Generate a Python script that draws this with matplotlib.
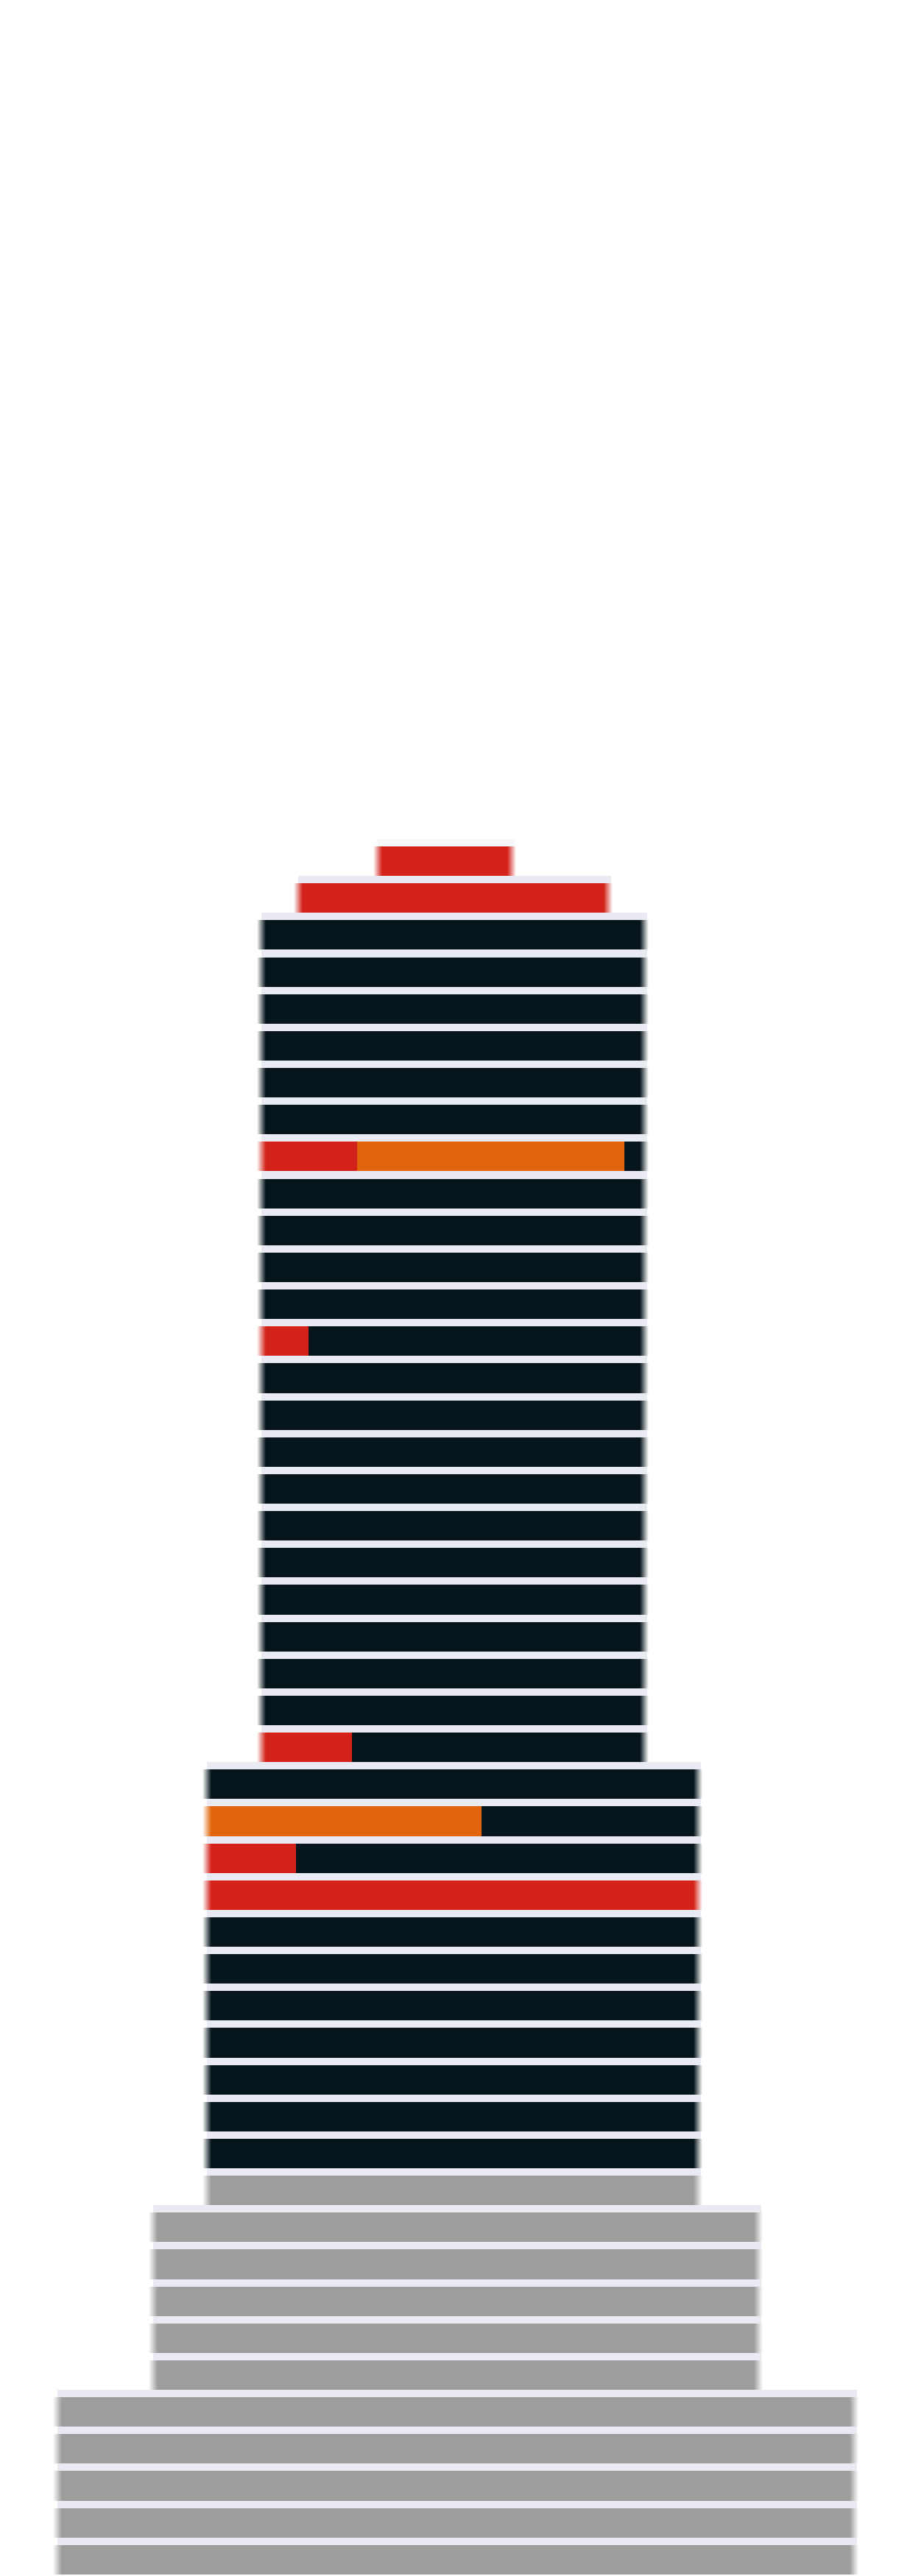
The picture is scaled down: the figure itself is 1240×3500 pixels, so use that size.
import matplotlib
matplotlib.use("Agg")
import matplotlib.pyplot as plt
import numpy as np

# ---------------- data ----------------
section_names = ["spire", "crown", "tower", "midrise", "podium", "base"]
section_floor_counts = [1, 1, 23, 12, 5, 5]
section_widths = [182, 421, 520, 667, 822, 1082]

# floors (counted from the top) that carry coloured segments
highlight_floors = [0, 1, 8, 13, 24, 26, 27, 28]
highlight_red = [182, 421, 130, 64, 123, 0, 121, 667]
highlight_orange = [0, 0, 363, 0, 0, 373, 0, 0]

gray_from_floor = 36   # floors from here downwards are grey

# ---------------- style / layout ----------------
C_BLACK = "#06151b"
C_RED = "#d3221a"
C_ORANGE = "#e1640a"
C_GRAY = "#9d9d9d"
C_STRIP = "#eaeaf2"

W, H = 1240, 3500
section_centers = [604, 615, 615, 614, 619, 619]
pitch_px = 50.17
top_px = 1150
ramp = 6

fig = plt.figure(figsize=(W / 100, H / 100), dpi=100)
fig.patch.set_facecolor("white")
ax = fig.add_axes([0, 0, 1, 1])
ax.set_xlim(0, W)
ax.set_ylim((H - top_px) / pitch_px, -top_px / pitch_px)
ax.axis("off")

widths = np.repeat(section_widths, section_floor_counts)
centers = np.repeat(section_centers, section_floor_counts)
n_floors = len(widths)
red = np.zeros(n_floors)
orange = np.zeros(n_floors)
for f, r, o in zip(highlight_floors, highlight_red, highlight_orange):
    red[f] = r
    orange[f] = o

for i in range(n_floors):
    w = widths[i]
    left = centers[i] - w / 2
    right = left + w
    base_col = C_GRAY if i >= gray_from_floor else C_BLACK
    segs = [(red[i], C_RED), (orange[i], C_ORANGE), (w - red[i] - orange[i], base_col)]
    segs = [(l, c) for l, c in segs if l > 0.5]
    # strip above floor
    ax.barh(i - 0.1, w + 4, left=left, height=0.2, color=C_STRIP,
            alpha=0.35 if i == 0 else 1.0, linewidth=0)
    x = left
    for l, c in segs:
        ax.barh(i + 0.4, l, left=x, height=0.8, color=c, linewidth=0)
        x += l
    # soft vertical edges
    lc = segs[0][1]
    rc = segs[-1][1]
    n = 2 * ramp
    for k in range(n):
        t = (k + 0.5) / n
        xs = left - ramp + k
        if xs < left:
            ax.barh(i + 0.4, 1, left=xs, height=0.8, color=lc, alpha=t, linewidth=0)
        else:
            ax.barh(i + 0.4, 1, left=xs, height=0.8, color="white", alpha=1 - t, linewidth=0)
        xs = right + ramp - k - 1
        if xs >= right:
            ax.barh(i + 0.4, 1, left=xs, height=0.8, color=rc, alpha=t, linewidth=0)
        else:
            ax.barh(i + 0.4, 1, left=xs, height=0.8, color="white", alpha=1 - t, linewidth=0)

fig.savefig("out.png", dpi=100, facecolor="white")
